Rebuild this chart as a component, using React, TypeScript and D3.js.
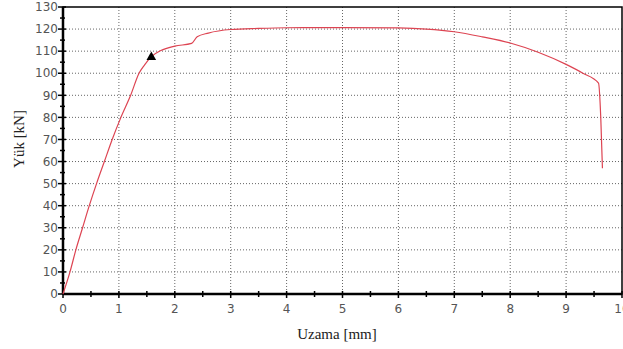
import React from "react";
import * as d3 from "d3";

// elongation [mm] and load [kN]
const elongation = [0, 0.125, 0.23, 0.35, 0.47, 0.6, 0.74, 0.88, 1.036, 1.21, 1.36, 1.46, 1.58, 1.75, 2.0, 2.3, 2.4, 2.6, 3.0, 3.5, 4.0, 5.0, 6.0, 6.5, 7.0, 7.5, 8.0, 8.5, 9.0, 9.3, 9.58, 9.62, 9.65];
const load = [0, 10, 20, 30, 40, 50, 60, 70, 80, 90, 100, 103.8, 107.5, 110.3, 112.3, 113.5, 116.5, 118.2, 119.8, 120.3, 120.6, 120.7, 120.5, 120, 118.8, 116.5, 113.7, 109.5, 104, 100, 95.5, 80, 57];
const marker = [1.58, 107.3];

const xTicks = d3.range(0, 11, 1);
const xMinor = d3.range(0.5, 10, 1);
const yTicks = d3.range(0, 131, 10);
const yMinor = d3.range(5, 130, 10);

const W = 623;
const H = 349;
const left = 63;
const right = 622;
const top = 7;
const bottom = 294;

export default function App() {
  const x = d3.scaleLinear().domain([0, 10]).range([left, right]);
  const y = d3.scaleLinear().domain([0, 130]).range([bottom, top]);

  const pts = elongation.map((e, i) => [e, load[i]] as [number, number]);
  const line = d3
    .line<[number, number]>()
    .x((d) => x(d[0]))
    .y((d) => y(d[1]))
    .curve(d3.curveMonotoneX);

  const tri = d3.symbol().type(d3.symbolTriangle).size(40)();
  const tickFont = "DejaVu Sans, Verdana, sans-serif";
  const titleFont = "Liberation Serif, Times New Roman, serif";

  return (
    <svg width={W} height={H} style={{ position: "absolute", left: 0, top: 0, background: "#fff" }}>
      {/* grid */}
      {xTicks.slice(1, -1).map((t) => (
        <line key={"gx" + t} x1={x(t)} x2={x(t)} y1={top} y2={bottom} stroke="#666" strokeWidth={1} strokeDasharray="1,2" />
      ))}
      {yTicks.slice(1, -1).map((t) => (
        <line key={"gy" + t} x1={left} x2={right} y1={y(t)} y2={y(t)} stroke="#666" strokeWidth={1} strokeDasharray="1,2" />
      ))}

      {/* frame */}
      <rect x={left} y={top} width={right - left} height={bottom - top} fill="none" stroke="#000" strokeWidth={1.5} />
      <line x1={left} x2={left} y1={top} y2={bottom} stroke="#000" strokeWidth={2.5} />
      <line x1={left} x2={right} y1={bottom} y2={bottom} stroke="#000" strokeWidth={2.5} />

      {/* y ticks */}
      {yTicks.map((t) => (
        <g key={"yt" + t}>
          <line x1={left - 5} x2={left + 3} y1={y(t)} y2={y(t)} stroke="#000" strokeWidth={1.5} />
          <text x={left - 5} y={y(t)} dy="0.35em" textAnchor="end" fontFamily={tickFont} fontSize={12} fill="#555">
            {t}
          </text>
        </g>
      ))}
      {yMinor.map((t) => (
        <line key={"ym" + t} x1={left - 3} x2={left + 2} y1={y(t)} y2={y(t)} stroke="#000" strokeWidth={1.5} />
      ))}

      {/* x ticks */}
      {xTicks.map((t) => (
        <g key={"xt" + t}>
          <line x1={x(t)} x2={x(t)} y1={bottom - 3} y2={bottom + 4} stroke="#000" strokeWidth={1.5} />
          <text x={x(t)} y={bottom + 19} textAnchor="middle" fontFamily={tickFont} fontSize={12} fill="#555">
            {t}
          </text>
        </g>
      ))}
      {xMinor.map((t) => (
        <line key={"xm" + t} x1={x(t)} x2={x(t)} y1={bottom - 3} y2={bottom + 3} stroke="#000" strokeWidth={1.5} />
      ))}

      {/* curve */}
      <path d={line(pts) || ""} fill="none" stroke="#dd4452" strokeWidth={1.2} />
      <path d={tri || ""} transform={`translate(${x(marker[0])},${y(marker[1])})`} fill="#000" />

      {/* axis titles */}
      <text x={337} y={339} textAnchor="middle" fontFamily={titleFont} fontSize={15} fill="#222">
        Uzama [mm]
      </text>
      <text transform="translate(24,139) rotate(-90)" textAnchor="middle" fontFamily={titleFont} fontSize={15} fill="#222">
        Yük [kN]
      </text>
    </svg>
  );
}
